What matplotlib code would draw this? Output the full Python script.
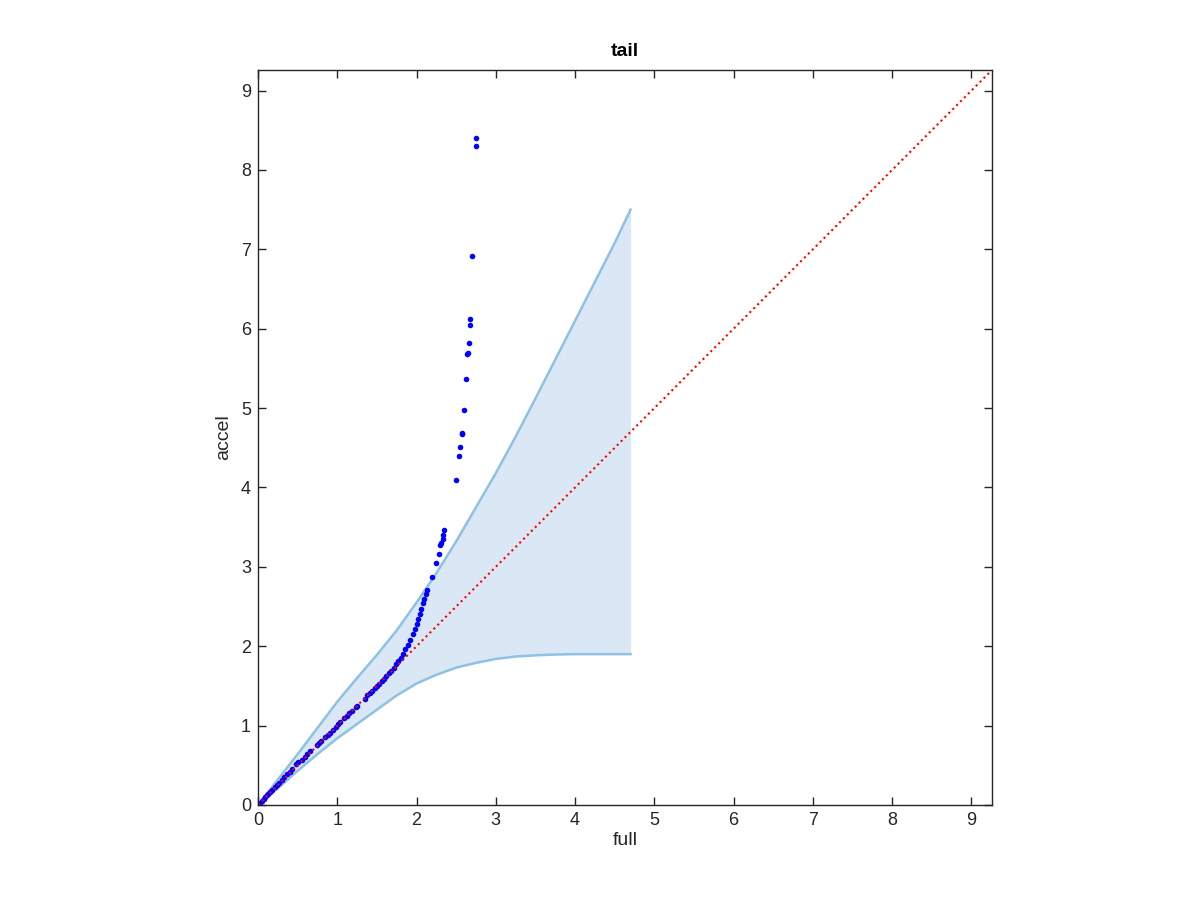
import matplotlib
matplotlib.use("Agg")
import matplotlib.pyplot as plt

plt.rcParams["font.family"] = ["Liberation Sans", "DejaVu Sans"]

# 分位点 (full vs accel)
full = [0.00, 0.01, 0.03, 0.05, 0.07, 0.09, 0.11, 0.13, 0.15, 0.18, 0.21, 0.24, 0.27, 0.30,
        0.33, 0.37, 0.40, 0.43, 0.48, 0.51, 0.55, 0.59, 0.62, 0.65, 0.74, 0.77, 0.80, 0.84,
        0.88, 0.91, 0.94, 0.98, 1.01, 1.04, 1.08, 1.12, 1.15, 1.19, 1.23, 1.25, 1.35, 1.38,
        1.41, 1.44, 1.47, 1.50, 1.53, 1.56, 1.59, 1.62, 1.65, 1.68, 1.71, 1.74, 1.77, 1.80,
        1.83, 1.86, 1.89, 1.92, 1.95, 1.98, 2.00, 2.02, 2.04, 2.06, 2.08, 2.10, 2.12, 2.13,
        2.19, 2.25, 2.28, 2.30, 2.31, 2.33, 2.34, 2.35, 2.50, 2.54, 2.55, 2.57, 2.57, 2.60,
        2.63, 2.64, 2.65, 2.66, 2.67, 2.68, 2.70, 2.745, 2.745]
accel = [0.00, 0.01, 0.03, 0.05, 0.07, 0.10, 0.12, 0.14, 0.16, 0.19, 0.22, 0.25, 0.28, 0.31,
         0.35, 0.39, 0.42, 0.45, 0.51, 0.54, 0.57, 0.61, 0.64, 0.68, 0.75, 0.78, 0.81, 0.85,
         0.88, 0.91, 0.95, 0.98, 1.02, 1.05, 1.09, 1.12, 1.16, 1.19, 1.23, 1.25, 1.34, 1.38,
         1.41, 1.44, 1.47, 1.50, 1.53, 1.56, 1.59, 1.62, 1.66, 1.69, 1.73, 1.77, 1.81, 1.85,
         1.90, 1.96, 2.02, 2.08, 2.15, 2.22, 2.28, 2.34, 2.40, 2.47, 2.54, 2.60, 2.66, 2.71,
         2.87, 3.05, 3.16, 3.27, 3.30, 3.35, 3.40, 3.47, 4.10, 4.40, 4.51, 4.67, 4.69, 4.97,
         5.36, 5.68, 5.69, 5.82, 6.05, 6.12, 6.91, 8.30, 8.40]

# 信頼区間の帯
band_x = [0.0, 0.25, 0.5, 0.75, 1.0, 1.25, 1.5, 1.75, 2.0, 2.25, 2.5, 2.75, 3.0,
          3.25, 3.5, 3.75, 4.0, 4.25, 4.5, 4.7]
band_hi = [0.0, 0.32, 0.64, 0.97, 1.30, 1.60, 1.89, 2.20, 2.55, 2.92, 3.32, 3.75, 4.18,
           4.64, 5.12, 5.61, 6.10, 6.59, 7.08, 7.50]
band_lo = [0.0, 0.21, 0.43, 0.64, 0.84, 1.02, 1.20, 1.38, 1.53, 1.64, 1.73, 1.79, 1.84,
           1.87, 1.885, 1.895, 1.90, 1.90, 1.90, 1.90]

lim = 9.26
dark = "#262626"

fig = plt.figure(figsize=(12, 9), dpi=100)
ax = fig.add_axes([0.215, 0.1056, 0.6117, 0.8167])

ax.fill_between(band_x, band_lo, band_hi, color="#d9e8f4", lw=0)
ax.plot(band_x, band_hi, color="#8fc1e3", lw=1.8)
ax.plot(band_x, band_lo, color="#8fc1e3", lw=1.8)

ax.plot(full, accel, "o", color="blue", markersize=4, markeredgewidth=0)
ax.plot([0, lim], [0, lim], ":", color="red", lw=1.5)

ax.set_xlim(0, lim)
ax.set_ylim(0, lim)
ax.set_xticks(range(10))
ax.set_yticks(range(10))
ax.tick_params(direction="in", length=6, width=1, top=True, right=True,
               labelsize=13, colors=dark, pad=5)
for s in ax.spines.values():
    s.set_color(dark)
    s.set_linewidth(1)

ax.set_title("tail", fontsize=14, fontweight="bold", pad=10)
ax.set_xlabel("full", fontsize=14, color=dark, labelpad=2)
ax.set_ylabel("accel", fontsize=14, color=dark, labelpad=6)

fig.savefig("out.png", dpi=100)
